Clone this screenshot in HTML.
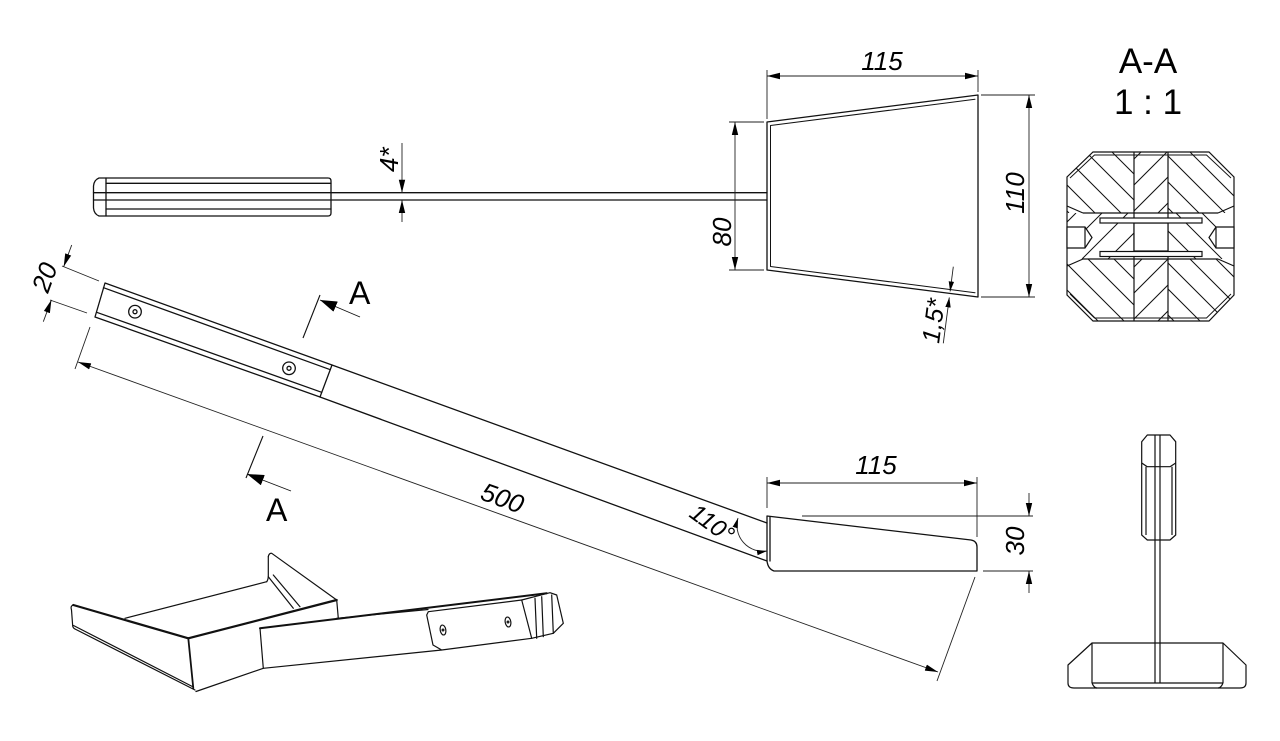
<!DOCTYPE html>
<html><head><meta charset="utf-8"><style>
html,body{margin:0;padding:0;background:#fff;}
svg{display:block;}
text{font-family:"Liberation Sans",sans-serif;fill:#000;stroke:none;}
.d{font-style:italic;font-size:26px;}
</style></head><body>
<svg width="1280" height="741" viewBox="0 0 1280 741" xmlns="http://www.w3.org/2000/svg">
<defs>
<marker id="ar" markerWidth="14" markerHeight="8" refX="13" refY="4" orient="auto-start-reverse" markerUnits="userSpaceOnUse"><path d="M0,0.8 L13,4 L0,7.2 Z" fill="#000"/></marker>
<marker id="as" markerWidth="11" markerHeight="7" refX="10" refY="3.5" orient="auto-start-reverse" markerUnits="userSpaceOnUse"><path d="M0,0.8 L10,3.5 L0,6.2 Z" fill="#000"/></marker>
<marker id="aa" markerWidth="18" markerHeight="11" refX="17" refY="5.5" orient="auto" markerUnits="userSpaceOnUse"><path d="M0,0 L17,5.5 L0,11 Z" fill="#000"/></marker>
<clipPath id="oct"><path d="M1093,152 L1209,152 L1234,177 L1234,295 L1209,321 L1093,321 L1067,295 L1067,177 Z"/></clipPath>
<clipPath id="cTL"><rect x="1067" y="152" width="67" height="61"/></clipPath>
<clipPath id="cTM"><rect x="1134" y="152" width="34" height="61"/></clipPath>
<clipPath id="cTR"><rect x="1168" y="152" width="66" height="61"/></clipPath>
<clipPath id="cBL"><rect x="1067" y="259" width="67" height="62"/></clipPath>
<clipPath id="cBM"><rect x="1134" y="259" width="34" height="62"/></clipPath>
<clipPath id="cBR"><rect x="1168" y="259" width="66" height="62"/></clipPath>
<clipPath id="cML"><rect x="1067" y="213" width="67" height="46"/></clipPath>
<clipPath id="cMR"><rect x="1168" y="213" width="66" height="46"/></clipPath>
</defs>
<rect width="1280" height="741" fill="#fff"/>

<!-- ============ TOP VIEW ============ -->
<g fill="none" stroke="#111" stroke-width="1.3" stroke-linejoin="round" stroke-linecap="round">
  <path d="M106,178 L328,178 Q331,178 331,181 L331,213 Q331,216 328,216 L106,216"/>
  <path d="M106,178 L99,178 Q94,180 93.5,186 L93.5,208 Q94,214 99,216 L106,216 Z"/>
  <path d="M106,183.3 L331,183.3 M106,209 L331,209"/>
  <path d="M93.5,192.7 L767,192.7 M93.5,200 L767,200"/>
  <path d="M767,122 L978,95 L978,297 L767,270 Z"/>
  <path d="M770.5,125.5 L975,99.3 M770.5,266.5 L975,292.7 M770.5,125.5 L770.5,266.5" stroke-width="1"/>
</g>
<g fill="none" stroke="#222" stroke-width="0.9">
  <path d="M402,143 L402,192.7" marker-end="url(#ar)"/>
  <path d="M402,222 L402,200" marker-end="url(#ar)"/>
  <path d="M767,70 L767,119 M978,70 L978,92"/>
  <path d="M767,76 L978,76" marker-start="url(#ar)" marker-end="url(#ar)"/>
  <path d="M764,122 L729,122 M764,270 L729,270"/>
  <path d="M735,122 L735,270" marker-start="url(#ar)" marker-end="url(#ar)"/>
  <path d="M981,95 L1035,95 M981,297 L1035,297"/>
  <path d="M1029,95 L1029,297" marker-start="url(#ar)" marker-end="url(#ar)"/>
  <path d="M953.3,266.7 L950.1,291.4" marker-end="url(#as)"/>
  <path d="M943.3,343.3 L949.3,297.4" marker-end="url(#as)"/>
</g>
<text class="d" transform="translate(398,172) rotate(-90)">4*</text>
<text class="d" x="882" y="70" text-anchor="middle">115</text>
<text class="d" transform="translate(731,232) rotate(-90)" text-anchor="middle">80</text>
<text class="d" transform="translate(1024,193) rotate(-90)" text-anchor="middle">110</text>
<text class="d" style="font-size:25px" transform="translate(939,344) rotate(-82.5)">1,5*</text>

<!-- ============ SECTION A-A ============ -->
<text x="1148" y="73" text-anchor="middle" style="font-size:35px">A-A</text>
<text x="1148" y="114" text-anchor="middle" style="font-size:35px">1 : 1</text>
<g fill="none" stroke="#111" stroke-width="1" clip-path="url(#oct)">
  <g clip-path="url(#cTL)"><path d="M1008,152 L1069,213 M1034,152 L1095,213 M1060,152 L1121,213 M1086,152 L1147,213 M1112,152 L1173,213"/></g>
  <g clip-path="url(#cTM)"><path d="M1080,213 L1141,152 M1106,213 L1167,152 M1132,213 L1193,152 M1158,213 L1219,152"/></g>
  <g clip-path="url(#cTR)"><path d="M1112,152 L1173,213 M1138,152 L1199,213 M1164,152 L1225,213 M1190,152 L1251,213 M1216,152 L1277,213"/></g>
  <g clip-path="url(#cBL)"><path d="M1010,259 L1072,321 M1036,259 L1098,321 M1062,259 L1124,321 M1088,259 L1150,321 M1114,259 L1176,321"/></g>
  <g clip-path="url(#cBM)"><path d="M1080,321 L1142,259 M1106,321 L1168,259 M1132,321 L1194,259 M1158,321 L1220,259"/></g>
  <g clip-path="url(#cBR)"><path d="M1112,259 L1174,321 M1138,259 L1200,321 M1164,259 L1226,321 M1190,259 L1252,321 M1216,259 L1278,321"/></g>
  <g clip-path="url(#cML)"><path d="M1030,259 L1076,213 M1056,259 L1102,213 M1082,259 L1128,213 M1108,259 L1154,213"/></g>
  <g clip-path="url(#cMR)"><path d="M1150,213 L1196,259 M1176,213 L1222,259 M1202,213 L1248,259"/></g>
</g>
<g fill="none" stroke="#111" stroke-width="1.2">
  <path d="M1093,152 L1209,152 L1234,177 L1234,295 L1209,321 L1093,321 L1067,295 L1067,177 Z"/>
  <path d="M1070,178 L1094.5,155 L1206.5,155 L1231,178 M1070,294 L1094.5,318 L1206.5,318 L1231,294" stroke-width="0.9"/>
  <path d="M1134,152 L1134,321 M1168,152 L1168,321"/>
  <path d="M1083,213 L1218,213 M1083,259 L1218,259 M1067,206 L1083,213 M1067,266 L1083,259 M1234,206 L1218,213 M1234,266 L1218,259"/>
  <rect x="1134" y="223" width="34" height="28" fill="#fff"/>
  <rect x="1100" y="218" width="102" height="5" fill="#fff"/>
  <rect x="1100" y="251.5" width="102" height="5" fill="#fff"/>
  <path d="M1067,227 L1085,227 L1092,237.5 L1085,248 L1067,248 Z M1085,227 L1085,248" fill="#fff"/>
  <path d="M1234,227 L1216,227 L1209,237.5 L1216,248 L1234,248 Z M1216,227 L1216,248" fill="#fff"/>
</g>

<!-- ============ SIDE VIEW ============ -->
<g fill="none" stroke="#111" stroke-width="1.3" stroke-linejoin="round" stroke-linecap="round">
  <path d="M105,283 L332,365 L320,397 L95,317 Z"/>
  <path d="M103.5,287.7 L330.3,369.7 M96.7,312.3 L321.7,392.3"/>
  <circle cx="135" cy="311.7" r="6.3"/><circle cx="135" cy="311.7" r="2"/>
  <circle cx="289" cy="368.3" r="6.3"/><circle cx="289" cy="368.3" r="2"/>
  <path d="M332,365 L767,523 M320,397 L767,561"/>
  <path d="M767,516 L971,540 Q977,541 977,547 L977,571 L774,571 Q768,569 767,561 Z"/>
  <path d="M770,517 L770,561"/>
</g>
<g fill="none" stroke="#222" stroke-width="0.9">
  <path d="M62,266 L99,281 M50,300 L87,313"/>
  <path d="M71.7,245 L63.7,266.6" marker-end="url(#ar)"/>
  <path d="M43.3,321.7 L51.4,299.9" marker-end="url(#ar)"/>
  <path d="M90,327 L75,369 M975,577 L937,681"/>
  <path d="M78,362 L938,672" marker-start="url(#ar)" marker-end="url(#ar)"/>
  <path d="M767,477 L767,508 M977,477 L977,537"/>
  <path d="M767,483 L977,483" marker-start="url(#ar)" marker-end="url(#ar)"/>
  <path d="M802,516 L1033,516 M983,571 L1033,571"/>
  <path d="M1029,493 L1029,516" marker-end="url(#ar)"/>
  <path d="M1029,593 L1029,571" marker-end="url(#ar)"/>
  <path d="M738,518 A26,26 0 0 0 767,551" marker-start="url(#as)" marker-end="url(#as)"/>
  <path d="M320,295 L303,338 M263,436 L246,478" stroke="#111" stroke-width="1.1"/>
  <path d="M360,317 L320,300" marker-end="url(#aa)" stroke="#111"/>
  <path d="M291,491 L247,474" marker-end="url(#aa)" stroke="#111"/>
</g>
<text class="d" transform="translate(48,294) rotate(-70)">20</text>
<text class="d" transform="translate(479,499) rotate(20)">500</text>
<text class="d" x="876" y="474" text-anchor="middle">115</text>
<text class="d" transform="translate(1024,541) rotate(-90)" text-anchor="middle">30</text>
<text class="d" style="font-size:24px" transform="translate(688,516) rotate(36)">110°</text>
<text x="349" y="304" style="font-size:32px">A</text>
<text x="266" y="521" style="font-size:32px">A</text>

<!-- ============ ISOMETRIC ============ -->
<g fill="none" stroke="#111" stroke-width="1.2" stroke-linejoin="round" stroke-linecap="round">
  <path d="M73.3,605 L188.3,638.3" stroke-width="2.2"/>
  <path d="M73.3,605 Q70,606 71.5,610 L72.7,626 Q73,628 75,629"/>
  <path d="M75,629 L195,690 M73.5,625.5 L193.3,687"/>
  <path d="M188.3,638.3 L193.3,688.3" stroke-width="1.8"/>
  <path d="M125,618.3 L266.7,581.7"/>
  <path d="M268.3,556.7 L268.3,576.7 Q268,580 266.7,581.7"/>
  <path d="M268.3,556.7 Q269,553 271.7,553.3 L336.7,600 L338.3,618.3"/>
  <path d="M268.3,576.7 L293.3,608.3 M273.3,575 L300,606.7"/>
  <path d="M188.3,638.3 L336.7,600" stroke-width="2.2"/>
  <path d="M196,691.5 L263.3,668.3"/>
  <path d="M260,628.3 L263.3,668.3 M263.3,668.3 L441.7,650"/>
  <path d="M260,628.3 L546.7,593.3" stroke-width="2"/>
  <path d="M336.7,618.3 L428,609.5"/>
  <path d="M428.3,611.7 L521.7,600 L531.7,638.3 L441.7,650 L433,645 L426.7,615 Z" fill="#fff"/>
  <path d="M521.7,600 L550,592.7 L556.7,595 L563.3,623.3 L553.3,633.3 L531.7,638.3"/>
  <path d="M535,598.3 L536.7,638.3 M541.7,596.7 L543.3,636.7 M551.7,595 L553.3,633.3"/>
  <ellipse cx="443" cy="630" rx="2.8" ry="5" transform="rotate(-10 443 630)"/>
  <circle cx="443" cy="630" r="0.9"/>
  <ellipse cx="508" cy="622" rx="2.8" ry="5" transform="rotate(-10 508 622)"/>
  <circle cx="508" cy="622" r="0.9"/>
</g>

<!-- ============ END VIEW ============ -->
<g fill="none" stroke="#111" stroke-width="1.2" stroke-linejoin="round">
  <path d="M1147.3,435 L1170,435 L1175.7,441.7 L1175.7,535 L1170,540 L1147.3,540 L1141.7,535 L1141.7,441.7 Z"/>
  <path d="M1141.7,463 L1147.3,466.7 L1170,466.7 L1175.7,463"/>
  <path d="M1146,466.7 L1146,535 M1172,466.7 L1172,535"/>
  <path d="M1155,435 L1155,683 M1160,435 L1160,683"/>
  <path d="M1092,643 L1223,643 L1246,665 L1246,683 Q1246,688 1240,688 L1074,688 Q1068,688 1068,683 L1068,665 Z"/>
  <path d="M1092,643 L1092,683 M1223,643 L1223,683 M1092,683 L1223,683"/>
  <path d="M1092,683 Q1094,688 1097,688 M1223,683 Q1221,688 1218,688"/>
</g>
</svg>
</body></html>
